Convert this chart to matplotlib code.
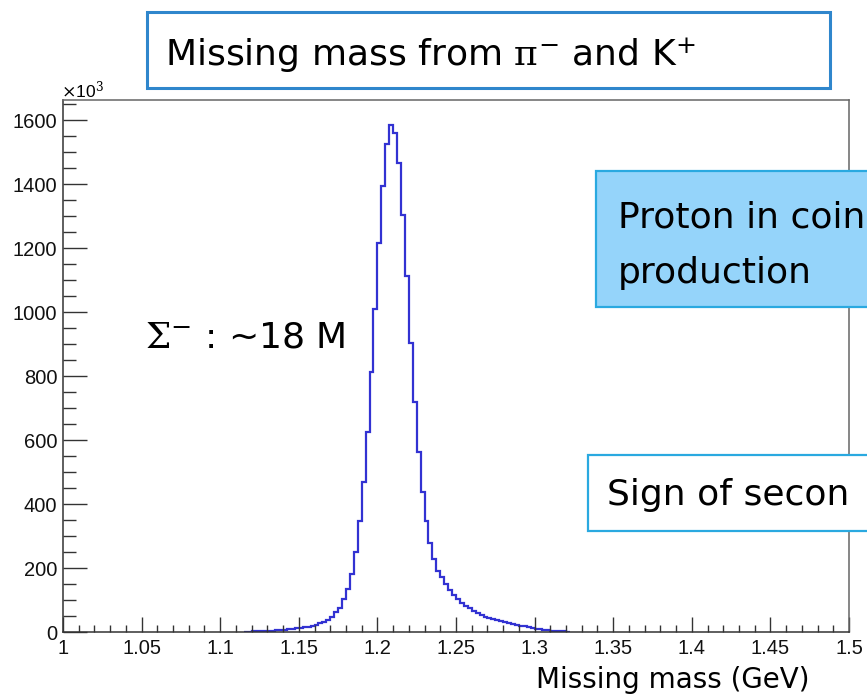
import numpy as np
import matplotlib
matplotlib.use("Agg")
import matplotlib.pyplot as plt
from matplotlib.patches import Rectangle
from matplotlib.ticker import MultipleLocator

# ---------------------------------------------------------------------------
# data: missing-mass histogram (counts in units of 10^3), 2.5 MeV bins
# ---------------------------------------------------------------------------
X_START = 1.115          # lower edge of first non-empty bin (GeV)
BIN_W = 0.0025           # bin width (GeV)
counts = [
    1, 1, 2, 2, 2, 3, 3, 4,
    5, 6, 7, 8, 10, 11, 13, 15,
    17, 20, 23, 27, 32, 37, 48, 61,
    76, 102, 133, 182, 251, 346, 468, 626,
    812, 1011, 1215, 1394, 1527, 1584, 1561, 1467,
    1303, 1112, 904, 720, 563, 437, 346, 277,
    228, 192, 171, 150, 131, 116, 102, 92,
    82, 74, 66, 58, 52, 48, 45, 41,
    37, 34, 31, 28, 25, 23, 20, 18,
    15, 12, 10, 8, 6, 5, 4, 3,
    2, 2, 1,
]
x_range = (1.0, 1.5)
xtick_labels = ["1", "1.05", "1.1", "1.15", "1.2", "1.25", "1.3",
                "1.35", "1.4", "1.45", "1.5"]
title_text = r"Missing mass from $\mathrm{\pi}^{-}$ and K$^{+}$"
peak_text = r"$\mathrm{\Sigma}^{-}$ : ~18 M"
box2_lines = "Proton in coin\nproduction"
box3_text = "Sign of secon"
xlabel = "Missing mass (GeV)"

W, H = 867, 695
plt.rcParams["mathtext.fontset"] = "dejavuserif"


def fx(px):
    return px / W


def fy(py):
    return 1 - py / H


fig = plt.figure(figsize=(W / 100, H / 100), dpi=100)
ax = fig.add_axes([fx(63), fy(632), (849 - 63) / W, (632 - 100) / H])

edges = X_START + BIN_W * np.arange(len(counts) + 1)
ax.stairs(counts, edges, color="#3232d2", linewidth=1.6, baseline=0)

ax.set_xlim(*x_range)
ax.set_ylim(0, 1.05 * max(counts))
ax.xaxis.set_minor_locator(MultipleLocator(0.01))
ax.yaxis.set_major_locator(MultipleLocator(200))
ax.yaxis.set_minor_locator(MultipleLocator(50))
ax.set_xticks(np.linspace(x_range[0], x_range[1], len(xtick_labels)))
ax.set_xticklabels(xtick_labels)

ax.tick_params(axis="both", which="both", direction="in", color="#333333",
               width=1.0, labelsize=14.5, labelcolor="#111111")
ax.tick_params(axis="x", which="major", length=11, pad=5)
ax.tick_params(axis="x", which="minor", length=5)
ax.tick_params(axis="y", which="major", length=17, pad=4)
ax.tick_params(axis="y", which="minor", length=9)
for lab in ax.get_xticklabels() + ax.get_yticklabels():
    lab.set_family("Liberation Sans")
for side, sp in ax.spines.items():
    sp.set_color("#333333" if side in ("left", "bottom") else "#666666")
    sp.set_linewidth(1.1)

fig.text(fx(61), fy(97), r"$\times$10$^{3}$", fontsize=12.5,
         family="Liberation Sans", ha="left", va="baseline")

# annotation boxes
fig.add_artist(Rectangle((fx(147), fy(88)), (830 - 147) / W, (88 - 12) / H,
                         transform=fig.transFigure, facecolor="white",
                         edgecolor="#2f86cc", linewidth=2.2))
fig.text(fx(165), fy(66), title_text, fontsize=26, family="DejaVu Sans",
         va="baseline", ha="left")

fig.add_artist(Rectangle((fx(596), fy(307)), (880 - 596) / W, (307 - 171) / H,
                         transform=fig.transFigure, facecolor="#95d4fa",
                         edgecolor="#2aa9e0", linewidth=1.6))
fig.text(fx(618), fy(228), box2_lines.split("\n")[0], fontsize=26,
         family="DejaVu Sans", va="baseline", ha="left")
fig.text(fx(618), fy(283), box2_lines.split("\n")[1], fontsize=26,
         family="DejaVu Sans", va="baseline", ha="left")

fig.add_artist(Rectangle((fx(588), fy(531)), (880 - 588) / W, (531 - 455) / H,
                         transform=fig.transFigure, facecolor="white",
                         edgecolor="#2aa9e0", linewidth=1.6))
fig.text(fx(607), fy(505), box3_text, fontsize=26, family="DejaVu Sans",
         va="baseline", ha="left")

fig.text(fx(145), fy(348), peak_text, fontsize=26, family="DejaVu Sans",
         va="baseline", ha="left")

fig.text(fx(810), fy(688), xlabel, fontsize=20, family="DejaVu Sans",
         va="baseline", ha="right")

fig.savefig("out.png", dpi=100)
